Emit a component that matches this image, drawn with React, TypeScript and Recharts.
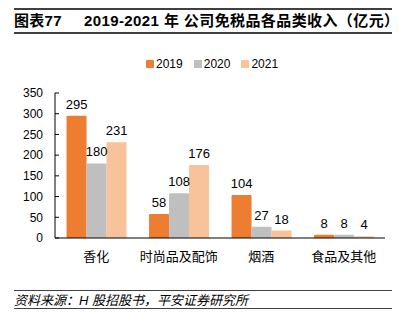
import React from 'react';
import { BarChart, Bar, XAxis, YAxis, Legend, LabelList } from 'recharts';

const categories = ['香化', '时尚品及配饰', '烟酒', '食品及其他'];
const series2019 = [295, 58, 104, 8];
const series2020 = [180, 108, 27, 8];
const series2021 = [231, 176, 18, 4];
const yTicks = [0, 50, 100, 150, 200, 250, 300, 350];
const seriesNames = ['2019', '2020', '2021'];
const colors = ['#ED7D31', '#BFBFBF', '#F8C29A'];

const data = categories.map((c, i) => ({
  name: c,
  pos: i,
  s2019: series2019[i],
  s2020: series2020[i],
  s2021: series2021[i],
}));

const FONT = '"Liberation Sans", Arial, "Noto Sans CJK SC", sans-serif';

const LegendContent = (props: any) => {
  const { payload } = props;
  return (
    <div style={{ display: 'flex', fontFamily: FONT, fontSize: 12, color: '#000', height: 14, lineHeight: '14px' }}>
      {(payload || []).map((p: any, i: number) => (
        <div key={i} style={{ display: 'flex', alignItems: 'center', marginRight: 11 }}>
          <span style={{ display: 'inline-block', width: 8, height: 8, background: p.color, marginRight: 2, borderRadius: i === 0 ? 1 : 0 }} />
          <span>{p.value}</span>
        </div>
      ))}
    </div>
  );
};

export default function App() {
  return (
    <div style={{ position: 'fixed', left: 0, top: 0, width: 408, height: 327, background: '#fff', fontFamily: FONT }}>
      <div style={{ position: 'absolute', left: 14, top: 8, width: 378, height: 0, borderTop: '2px solid #404040' }} />
      <div style={{ position: 'absolute', left: 14, top: 12, fontSize: 15, fontWeight: 'bold', color: '#000', whiteSpace: 'nowrap', lineHeight: '18px', letterSpacing: 0.3 }}>图表77</div>
      <div style={{ position: 'absolute', left: 84, top: 12, fontSize: 15, fontWeight: 'bold', color: '#000', whiteSpace: 'nowrap', lineHeight: '18px', letterSpacing: 0.4 }}>2019-2021 年 公司免税品各品类收入（亿元）</div>
      <div style={{ position: 'absolute', left: 14, top: 32, width: 378, height: 0, borderTop: '2px solid #404040' }} />

      <div style={{ position: 'absolute', left: 0, top: 0 }}>
        <BarChart width={408} height={327} data={data} margin={{ top: 79, right: 23, bottom: 59, left: 0 }} barCategoryGap="14%" barGap={0}>
          <XAxis xAxisId="b" type="number" dataKey="pos" domain={[0, 4]} ticks={[0, 1, 2, 3, 4]} height={0} tickSize={-4} tick={false} axisLine={false} tickLine={{ stroke: '#000' }} />
          <XAxis dataKey="name" height={30} tickLine={false} tickSize={0} tickMargin={14} axisLine={{ stroke: '#000' }} tick={{ fill: '#000', fontSize: 13, fontFamily: FONT }} interval={0} />
          <YAxis width={55} domain={[0, 350]} ticks={yTicks} tickSize={-4} tickMargin={16} axisLine={{ stroke: '#000' }} tickLine={{ stroke: '#000' }} tick={{ fill: '#000', fontSize: 12, fontFamily: FONT }} interval={0} />
          <Legend verticalAlign="top" content={<LegendContent />} wrapperStyle={{ position: 'absolute', top: 57, left: 146, width: 'auto' }} />
          <Bar dataKey="s2019" name={seriesNames[0]} fill={colors[0]} isAnimationActive={false} radius={[1, 1, 0, 0]}>
            <LabelList dataKey="s2019" position="top" fill="#000" fontSize={13} fontFamily={FONT} offset={7} />
          </Bar>
          <Bar dataKey="s2020" name={seriesNames[1]} fill={colors[1]} isAnimationActive={false} radius={[1, 1, 0, 0]}>
            <LabelList dataKey="s2020" position="top" fill="#000" fontSize={13} fontFamily={FONT} offset={7} />
          </Bar>
          <Bar dataKey="s2021" name={seriesNames[2]} fill={colors[2]} isAnimationActive={false} radius={[1, 1, 0, 0]}>
            <LabelList dataKey="s2021" position="top" fill="#000" fontSize={13} fontFamily={FONT} offset={7} />
          </Bar>
        </BarChart>
      </div>

      <div style={{ position: 'absolute', left: 14, top: 290, width: 378, height: 0, borderTop: '1px solid #404040' }} />
      <div style={{ position: 'absolute', left: 14, top: 293, fontSize: 13, fontStyle: 'italic', color: '#000', whiteSpace: 'nowrap', lineHeight: '16px' }}>资料来源：H 股招股书，平安证券研究所</div>
      <div style={{ position: 'absolute', left: 14, top: 308, width: 378, height: 0, borderTop: '1px solid #404040' }} />
    </div>
  );
}
